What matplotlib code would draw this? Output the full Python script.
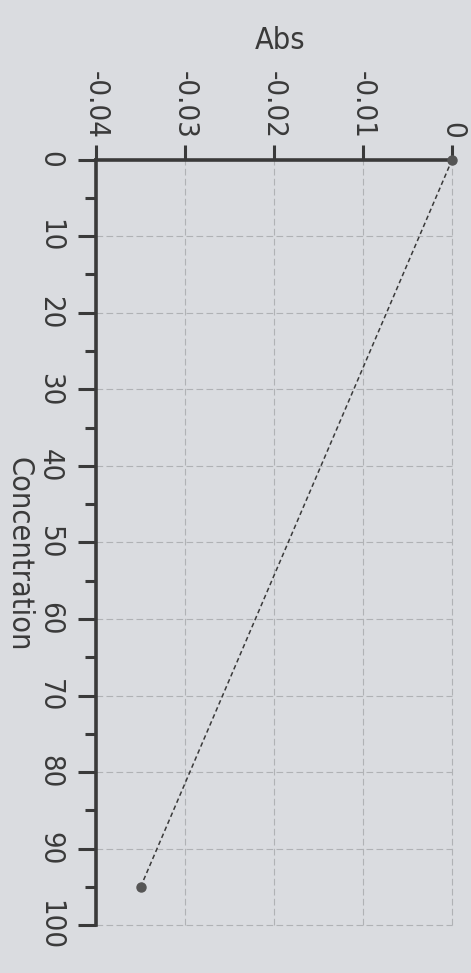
import matplotlib.pyplot as plt
from matplotlib.ticker import MultipleLocator
from matplotlib import font_manager

concentration = [0, 95]
absorbance = [0, -0.035]

abs_ticks = [-0.04, -0.03, -0.02, -0.01, 0]
abs_labels = ["-0.04", "-0.03", "-0.02", "-0.01", "0"]
conc_ticks = [0, 10, 20, 30, 40, 50, 60, 70, 80, 90, 100]
conc_labels = ["0", "10", "20", "30", "40", "50", "60", "70", "80", "90", "100"]

paper = "#dadce0"
ink = "#3a3a3a"
fp = font_manager.FontProperties(family="DejaVu Sans", stretch="condensed", size=21)
fp_lab = font_manager.FontProperties(family="DejaVu Sans", stretch="condensed", size=22)
print(font_manager.findfont(fp))

fig = plt.figure(figsize=(4.71, 9.73), dpi=100, facecolor=paper)
ax = fig.add_axes([0.204, 0.049, 0.756, 0.787])
ax.set_facecolor(paper)

# chart is printed sideways: Abs runs across, Concentration runs down
ax.plot(absorbance, concentration, color=ink, lw=1.1, ls=(0, (3, 2)),
        marker="o", ms=6.5, mfc="#555555", mec="#555555", clip_on=False, zorder=3)

ax.set_xlim(-0.04, 0)
ax.set_ylim(100, 0)

ax.xaxis.tick_top()
ax.set_xticks(abs_ticks)
ax.set_xticklabels(abs_labels, rotation=-90, fontproperties=fp, color=ink)
ax.set_yticks(conc_ticks)
ax.set_yticklabels(conc_labels, rotation=-90, fontproperties=fp, color=ink,
                   va="center")
ax.yaxis.set_minor_locator(MultipleLocator(5))

ax.tick_params(axis="x", which="major", direction="out", length=11, width=2.2,
               color=ink, pad=4)
ax.tick_params(axis="y", which="major", direction="out", length=13, width=2.2,
               color=ink, pad=10)
ax.tick_params(axis="y", which="minor", direction="out", length=8, width=2.2,
               color=ink)

for side in ["bottom", "right"]:
    ax.spines[side].set_visible(False)
for side in ["top", "left"]:
    ax.spines[side].set_linewidth(2.6)
    ax.spines[side].set_color(ink)

ax.grid(True, which="major", color="#b0b2b5", lw=0.8, ls=(0, (6, 3)))
for gl in ax.get_xgridlines() + ax.get_ygridlines():
    gl.set_clip_on(False)

fig.text(0.595, 0.958, "Abs", fontproperties=fp_lab, color=ink,
         ha="center", va="center")
fig.text(0.04, 0.43, "Concentration", fontproperties=fp_lab, color=ink,
         rotation=-90, ha="center", va="center")

fig.savefig("out.png", dpi=100, facecolor=paper)
